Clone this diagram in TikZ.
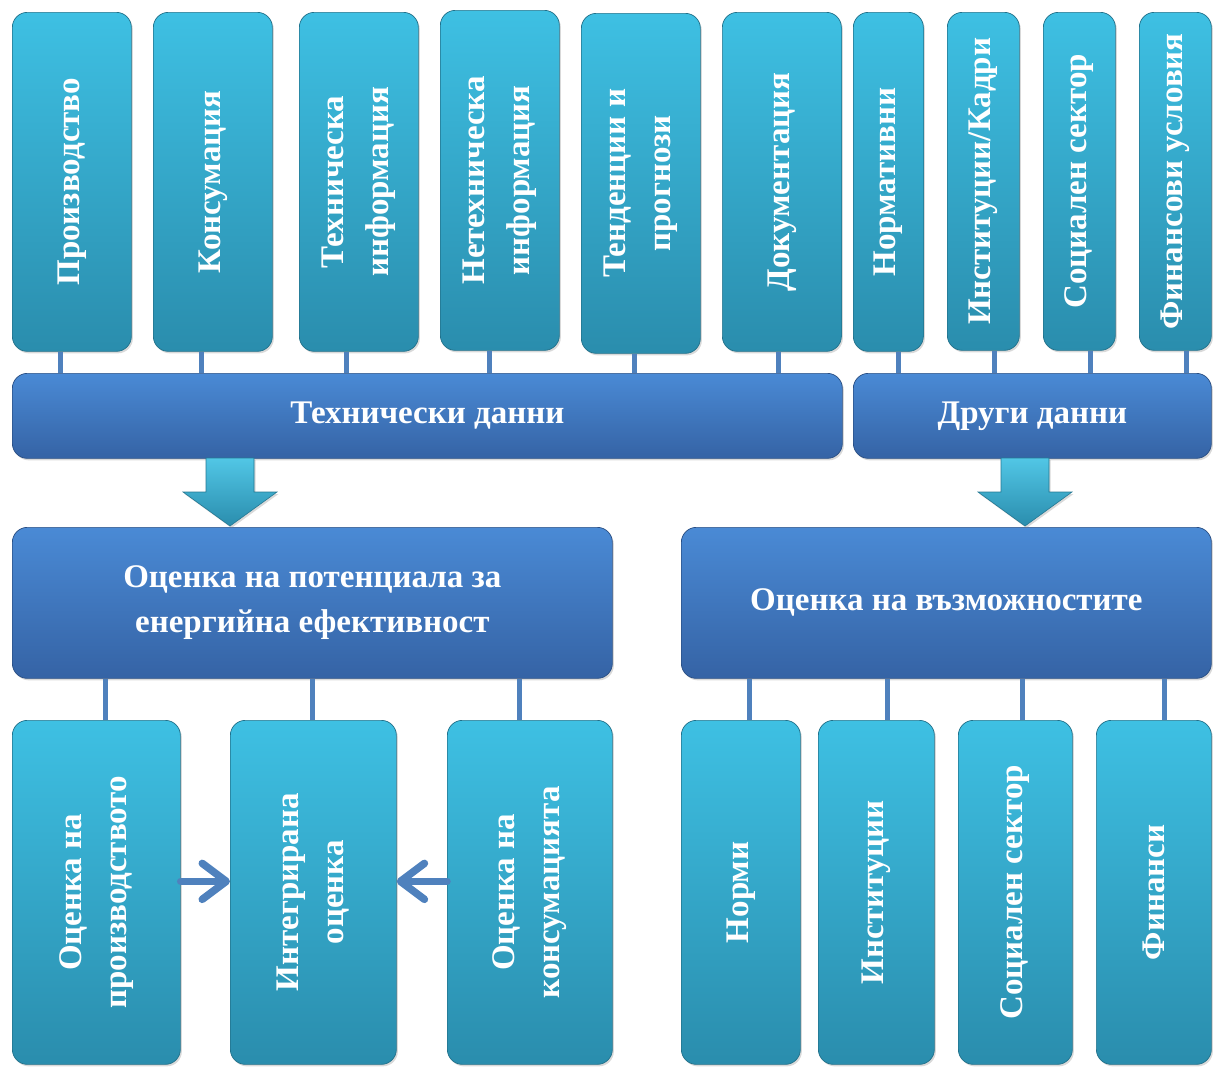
\documentclass[tikz,border=0pt]{standalone}
\usepackage{fontspec}
\setmainfont{Liberation Serif}
\usetikzlibrary{arrows.meta,shadows,calc}
\definecolor{tealtop}{HTML}{3EC0E3}
\definecolor{tealbot}{HTML}{2A8DAD}
\definecolor{bluetop}{HTML}{4A8AD5}
\definecolor{bluebot}{HTML}{3563A5}
\definecolor{linec}{HTML}{4F81BD}
\tikzset{
  tbox/.style={rounded corners=15pt, top color=tealtop, bottom color=tealbot, draw=tealbot!80!black, line width=0.7pt,
    drop shadow={opacity=0.3, shadow xshift=1.5pt, shadow yshift=-2pt}, anchor=north west, inner sep=0pt},
  bbox/.style={rounded corners=15pt, top color=bluetop, bottom color=bluebot, draw=bluebot!80!black, line width=0.7pt,
    drop shadow={opacity=0.3, shadow xshift=1.5pt, shadow yshift=-2pt}, anchor=north west, inner sep=0pt},
  lbl/.style={text=white, font=\bfseries\fontsize{33}{45}\selectfont, align=center, inner sep=0pt},
  vlbl/.style={lbl, rotate=90},
  conn/.style={draw=linec, line width=5pt},
  bigarrow/.style={top color=tealtop!90!white, bottom color=tealbot, draw=tealbot!85!black, line width=0.6pt,
    drop shadow={opacity=0.3, shadow xshift=1.5pt, shadow yshift=-2pt}},
  thinarrow/.style={draw=linec, line width=7.5pt, line cap=round, -{Straight Barb[length=24pt,width=36pt,round]}},
}
\begin{document}
\begin{tikzpicture}[x=1pt,y=1pt]
\useasboundingbox (0,0) rectangle (1213,-1066);
% top boxes
\node[tbox, minimum width=119, minimum height=339] (t1) at (12,-12) {};
\node[tbox, minimum width=119, minimum height=339] (t2) at (153,-12) {};
\node[tbox, minimum width=119, minimum height=339] (t3) at (299,-12) {};
\node[tbox, minimum width=119, minimum height=340] (t4) at (440,-10) {};
\node[tbox, minimum width=119, minimum height=340] (t5) at (581,-13) {};
\node[tbox, minimum width=119, minimum height=339] (t6) at (722,-12) {};
\node[tbox, minimum width=70, minimum height=339] (t7) at (853,-12) {};
\node[tbox, minimum width=72, minimum height=338] (t8) at (947,-12) {};
\node[tbox, minimum width=72, minimum height=338] (t9) at (1043,-12) {};
\node[tbox, minimum width=72, minimum height=338] (t10) at (1139,-12) {};
\node[vlbl] (t1l) at (t1.center) {Производство};
\node[vlbl] (t2l) at (t2.center) {Консумация};
\node[vlbl] (t3l) at (t3.center) {Техническа\\информация};
\node[vlbl] (t4l) at (t4.center) {Нетехническа\\информация};
\node[vlbl] (t5l) at (t5.center) {Тенденции и\\прогнози};
\node[vlbl] (t6l) at (t6.center) {Документация};
\node[vlbl] (t7l) at (t7.center) {Нормативни};
\node[vlbl] (t8l) at (t8.center) {Институции/Кадри};
\node[vlbl] (t9l) at (t9.center) {Социален сектор};
\node[vlbl] (t10l) at (t10.center) {Финансови условия};
% bars
\node[bbox, minimum width=830, minimum height=85] (tech) at (12,-373) {};
\node[bbox, minimum width=358, minimum height=85] (other) at (853,-373) {};
\node[lbl] (techl) at (tech.center) {Технически данни};
\node[lbl] (otherl) at (other.center) {Други данни};
% connectors top
\foreach \b/\dx in {t1/-11, t2/-11, t3/-12, t4/-10, t5/-6, t6/-3} {
  \draw[conn] ([xshift=\dx pt]\b.south) -- ([xshift=\dx pt]\b.south |- tech.north);
}
\foreach \b/\dx in {t7/10, t8/11, t9/11, t10/11} {
  \draw[conn] ([xshift=\dx pt]\b.south) -- ([xshift=\dx pt]\b.south |- other.north);
}
% middle boxes
\node[bbox, minimum width=600, minimum height=151] (pot) at (12,-527) {};
\node[bbox, minimum width=530, minimum height=151] (opp) at (681,-527) {};
\node[lbl] (potl) at (pot.center) {Оценка на потенциала за\\енергийна ефективност};
\node[lbl] (oppl) at (opp.center) {Оценка на възможностите};
% big arrows
\coordinate (a1) at (230,-458);
\coordinate (a2) at (1025,-458);
\foreach \a in {a1,a2} {
  \path[bigarrow] (\a) ++(-24,0) -- ++(48,0) -- ++(0,-34) -- ++(23,0) -- ++(-47,-34) -- ++(-47,34) -- ++(23,0) -- cycle;
}
% bottom boxes
\node[tbox, minimum width=168, minimum height=344] (b1) at (12,-720) {};
\node[tbox, minimum width=166, minimum height=344] (b2) at (230,-720) {};
\node[tbox, minimum width=165, minimum height=344] (b3) at (447,-720) {};
\node[tbox, minimum width=119, minimum height=344] (b4) at (681,-720) {};
\node[tbox, minimum width=116, minimum height=344] (b5) at (818,-720) {};
\node[tbox, minimum width=114, minimum height=344] (b6) at (958,-720) {};
\node[tbox, minimum width=115, minimum height=344] (b7) at (1096,-720) {};
\node[vlbl] (b1l) at (b1.center) {Оценка на\\производството};
\node[vlbl] (b2l) at (b2.center) {Интегрирана\\оценка};
\node[vlbl] (b3l) at (b3.center) {Оценка на\\консумацията};
\node[vlbl] (b4l) at (b4.center) {Норми};
\node[vlbl] (b5l) at (b5.center) {Институции};
\node[vlbl] (b6l) at (b6.center) {Социален сектор};
\node[vlbl] (b7l) at (b7.center) {Финанси};
% bottom connectors
\foreach \b/\dx in {b1/9, b2/-1, b3/-10} {
  \draw[conn] ([xshift=\dx pt]\b.north) -- ([xshift=\dx pt]\b.north |- pot.south);
}
\foreach \b/\dx in {b4/9, b5/11, b6/7, b7/11} {
  \draw[conn] ([xshift=\dx pt]\b.north) -- ([xshift=\dx pt]\b.north |- opp.south);
}
% thin arrows
\draw[thinarrow] ([yshift=11pt]b1.east) -- ([yshift=11pt]b2.west);
\draw[thinarrow] ([yshift=11pt]b3.west) -- ([yshift=11pt]b2.east);
\end{tikzpicture}
\end{document}
